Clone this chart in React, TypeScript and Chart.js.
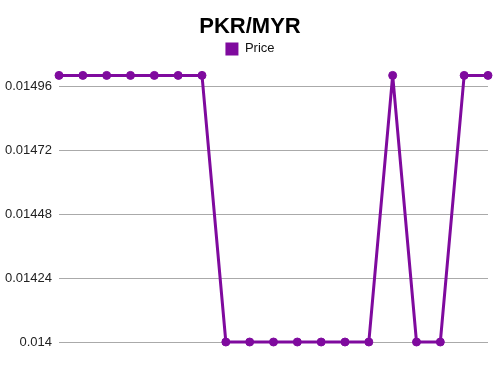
import React, { useEffect, useRef } from "react";
import { Chart, registerables } from "chart.js";

Chart.register(...registerables);

const labels = ["1","2","3","4","5","6","7","8","9","10","11","12","13","14","15","16","17","18","19"];
const prices = [0.015,0.015,0.015,0.015,0.015,0.015,0.015,0.014,0.014,0.014,0.014,0.014,0.014,0.014,0.015,0.014,0.014,0.015,0.015];
const yTicks = [0.014, 0.01424, 0.01448, 0.01472, 0.01496];
const purple = "#7f0a9e";

export default function App() {
  const ref = useRef<HTMLCanvasElement>(null);
  useEffect(() => {
    const chart = new Chart(ref.current!, {
      type: "line",
      data: {
        labels,
        datasets: [{
          label: "Price",
          data: prices,
          borderColor: purple,
          backgroundColor: purple,
          borderWidth: 3,
          pointRadius: 4,
          pointBorderWidth: 1,
          pointBackgroundColor: purple,
          pointBorderColor: purple,
          tension: 0,
          clip: false as any,
        }],
      },
      options: {
        animation: false,
        responsive: false,
        layout: { padding: { left: 0, right: 0, bottom: 33, top: 0 } },
        plugins: {
          title: {
            display: true,
            text: "PKR/MYR",
            color: "#000",
            font: { family: "Liberation Sans, Arial, sans-serif", size: 22, weight: "bold" },
            padding: { top: 14, bottom: -8 },
          },
          legend: {
            labels: {
              color: "#111",
              boxWidth: 13,
              boxHeight: 13,
              font: { family: "Liberation Sans, Arial, sans-serif", size: 13 },
              generateLabels: (c: any) =>
                Chart.defaults.plugins.legend.labels.generateLabels(c).map((l: any) => ({ ...l, lineWidth: 0 })),
            },
          },
          tooltip: { enabled: false },
        },
        scales: {
          x: { display: false, offset: false },
          y: {
            min: 0.014,
            max: 0.0150375,
            afterBuildTicks: (axis: any) => { axis.ticks = yTicks.map((v) => ({ value: v })); },
            afterFit: (axis: any) => { axis.width = 59; },
            ticks: {
              color: "#222",
              font: { family: "Liberation Sans, Arial, sans-serif", size: 13 },
              padding: 7,
              callback: (v: any) => String(Number(v)),
            },
            grid: { color: "#aaa", drawTicks: false, lineWidth: 1 },
            border: { display: false },
          },
          yRight: {
            type: "linear",
            position: "right",
            display: true,
            ticks: { display: false },
            grid: { display: false, drawTicks: false },
            border: { display: false },
            afterFit: (axis: any) => { axis.width = 12; },
          },
        },
      },
    });
    return () => chart.destroy();
  }, []);
  return (
    <div style={{ position: "fixed", left: 0, top: 0, width: 500, height: 375, background: "#fff" }}>
      <canvas ref={ref} width={500} height={375} />
    </div>
  );
}
